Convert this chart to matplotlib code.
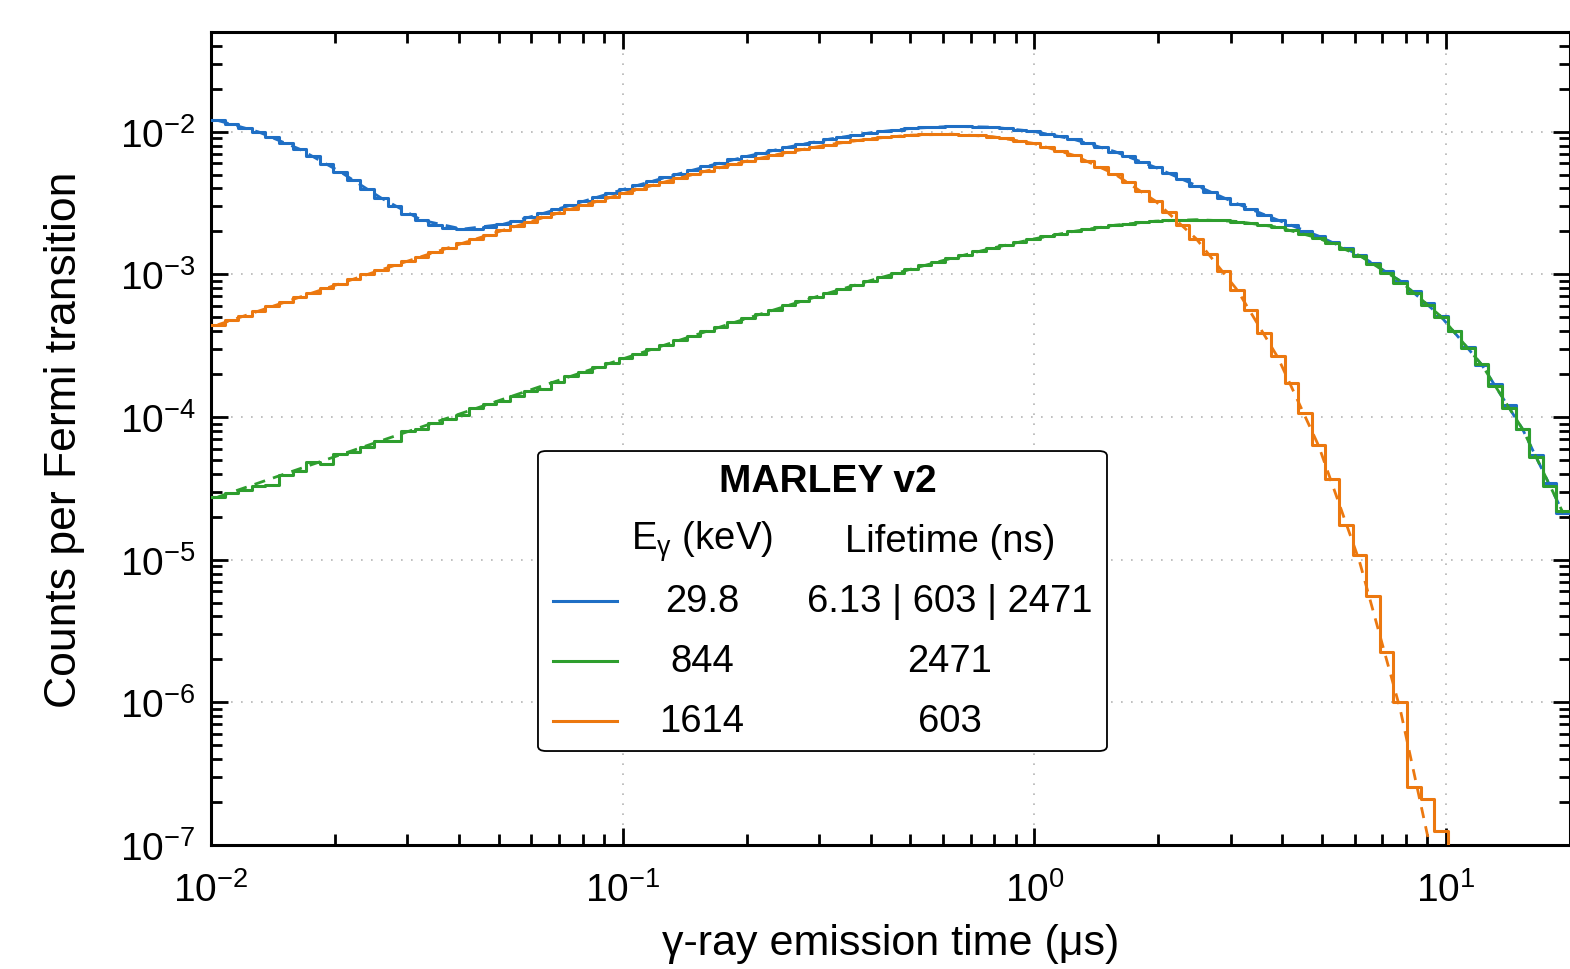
import numpy as np
import matplotlib
matplotlib.use("Agg")
import matplotlib.pyplot as plt
import matplotlib.patches as mpatches

plt.rcParams['font.family'] = ['Liberation Sans', 'DejaVu Sans']
plt.rcParams['mathtext.fontset'] = 'custom'
plt.rcParams['mathtext.rm'] = 'Liberation Sans'
plt.rcParams['mathtext.it'] = 'Liberation Sans:italic'
plt.rcParams['mathtext.bf'] = 'Liberation Sans:bold'

# histogram: 100 log bins from 0.01 to 20 us
t_min, t_max, n_bins = 0.01, 20.0, 100

# counts per bin
blue_hist = [
    1.199e-2, 1.138e-2, 1.070e-2, 9.965e-3, 9.184e-3, 8.376e-3, 7.563e-3, 6.756e-3, 5.976e-3, 5.241e-3,
    4.565e-3, 3.963e-3, 3.439e-3, 3.006e-3, 2.660e-3, 2.399e-3, 2.220e-3, 2.116e-3, 2.076e-3, 2.090e-3,
    2.150e-3, 2.246e-3, 2.371e-3, 2.519e-3, 2.686e-3, 2.869e-3, 3.064e-3, 3.273e-3, 3.495e-3, 3.731e-3,
    3.981e-3, 4.239e-3, 4.512e-3, 4.796e-3, 5.093e-3, 5.402e-3, 5.721e-3, 6.052e-3, 6.392e-3, 6.739e-3,
    7.093e-3, 7.450e-3, 7.809e-3, 8.167e-3, 8.526e-3, 8.873e-3, 9.208e-3, 9.527e-3, 9.827e-3, 1.010e-2,
    1.034e-2, 1.055e-2, 1.072e-2, 1.084e-2, 1.090e-2, 1.092e-2, 1.087e-2, 1.077e-2, 1.059e-2, 1.036e-2,
    1.006e-2, 9.700e-3, 9.292e-3, 8.832e-3, 8.331e-3, 7.808e-3, 7.260e-3, 6.706e-3, 6.156e-3, 5.620e-3,
    5.110e-3, 4.631e-3, 4.193e-3, 3.796e-3, 3.442e-3, 3.130e-3, 2.857e-3, 2.616e-3, 2.403e-3, 2.208e-3,
    2.028e-3, 1.856e-3, 1.691e-3, 1.528e-3, 1.366e-3, 1.207e-3, 1.051e-3, 9.01e-4, 7.59e-4, 6.27e-4,
    5.07e-4, 4.01e-4, 3.10e-4, 2.33e-4, 1.70e-4, 1.21e-4, 8.26e-5, 5.46e-5, 3.47e-5, 2.12e-5,
]
green_hist = [
    2.75e-5, 2.93e-5, 3.09e-5, 3.30e-5, 3.32e-5, 3.94e-5, 4.16e-5, 4.81e-5, 4.68e-5, 5.53e-5,
    5.67e-5, 6.16e-5, 6.75e-5, 6.75e-5, 7.93e-5, 8.28e-5, 9.08e-5, 9.73e-5, 1.028e-4, 1.156e-4,
    1.239e-4, 1.288e-4, 1.396e-4, 1.53e-4, 1.58e-4, 1.75e-4, 1.95e-4, 2.06e-4, 2.25e-4, 2.38e-4,
    2.60e-4, 2.77e-4, 3.01e-4, 3.20e-4, 3.47e-4, 3.70e-4, 4.01e-4, 4.27e-4, 4.62e-4, 4.91e-4,
    5.30e-4, 5.65e-4, 6.08e-4, 6.48e-4, 6.96e-4, 7.41e-4, 7.95e-4, 8.45e-4, 9.04e-4, 9.60e-4,
    1.025e-3, 1.086e-3, 1.157e-3, 1.223e-3, 1.299e-3, 1.370e-3, 1.450e-3, 1.524e-3, 1.608e-3, 1.683e-3,
    1.768e-3, 1.843e-3, 1.926e-3, 1.998e-3, 2.077e-3, 2.141e-3, 2.211e-3, 2.263e-3, 2.319e-3, 2.355e-3,
    2.392e-3, 2.405e-3, 2.418e-3, 2.404e-3, 2.388e-3, 2.344e-3, 2.297e-3, 2.220e-3, 2.140e-3, 2.033e-3,
    1.922e-3, 1.789e-3, 1.656e-3, 1.504e-3, 1.356e-3, 1.190e-3, 1.016e-3, 8.65e-4, 7.36e-4, 6.09e-4,
    5.00e-4, 3.98e-4, 3.05e-4, 2.34e-4, 1.65e-4, 1.16e-4, 8.24e-5, 5.27e-5, 3.31e-5, 2.20e-5,
]
orange_hist = [
    4.43e-4, 4.77e-4, 5.14e-4, 5.53e-4, 5.96e-4, 6.42e-4, 6.91e-4, 7.44e-4, 8.01e-4, 8.62e-4,
    9.28e-4, 9.98e-4, 1.074e-3, 1.155e-3, 1.241e-3, 1.334e-3, 1.433e-3, 1.539e-3, 1.652e-3, 1.773e-3,
    1.903e-3, 2.040e-3, 2.186e-3, 2.342e-3, 2.508e-3, 2.683e-3, 2.868e-3, 3.064e-3, 3.271e-3, 3.489e-3,
    3.721e-3, 3.960e-3, 4.212e-3, 4.474e-3, 4.746e-3, 5.030e-3, 5.322e-3, 5.623e-3, 5.931e-3, 6.245e-3,
    6.563e-3, 6.882e-3, 7.201e-3, 7.517e-3, 7.831e-3, 8.130e-3, 8.414e-3, 8.680e-3, 8.923e-3, 9.138e-3,
    9.319e-3, 9.462e-3, 9.561e-3, 9.611e-3, 9.606e-3, 9.545e-3, 9.423e-3, 9.237e-3, 8.986e-3, 8.669e-3,
    8.289e-3, 7.853e-3, 7.366e-3, 6.829e-3, 6.254e-3, 5.662e-3, 5.049e-3, 4.437e-3, 3.837e-3, 3.259e-3,
    2.718e-3, 2.220e-3, 1.775e-3, 1.385e-3, 1.054e-3, 7.80e-4, 5.60e-4, 3.90e-4, 2.66e-4, 1.72e-4,
    1.06e-4, 6.4e-5, 3.7e-5, 1.75e-5, 1.07e-5, 5.6e-6, 2.26e-6, 1.0e-6, 2.55e-7, 2.1e-7,
    1.26e-7, 0, 0, 0, 0, 0, 0, 0, 0, 0,
]

# expected (dashed) curves, at every 3rd bin centre
blue_curve = [
    1.199e-2, 9.965e-3, 7.563e-3, 5.241e-3, 3.439e-3, 2.399e-3, 2.076e-3, 2.246e-3, 2.686e-3, 3.273e-3,
    3.981e-3, 4.796e-3, 5.721e-3, 6.739e-3, 7.809e-3, 8.873e-3, 9.827e-3, 1.055e-2, 1.090e-2, 1.077e-2,
    1.006e-2, 8.832e-3, 7.260e-3, 5.620e-3, 4.193e-3, 3.130e-3, 2.403e-3, 1.856e-3, 1.366e-3, 9.01e-4,
    5.07e-4, 2.33e-4, 8.26e-5, 2.12e-5,
]
green_curve = [
    2.75e-5, 3.45e-5, 4.33e-5, 5.43e-5, 6.81e-5, 8.53e-5, 1.067e-4, 1.335e-4, 1.669e-4, 2.082e-4,
    2.593e-4, 3.223e-4, 3.995e-4, 4.937e-4, 6.072e-4, 7.429e-4, 9.035e-4, 1.088e-3, 1.298e-3, 1.528e-3,
    1.768e-3, 2.003e-3, 2.211e-3, 2.361e-3, 2.418e-3, 2.350e-3, 2.140e-3, 1.794e-3, 1.356e-3, 9.00e-4,
    5.07e-4, 2.33e-4, 8.26e-5, 2.12e-5,
]
orange_curve = [
    4.43e-4, 5.53e-4, 6.91e-4, 8.62e-4, 1.074e-3, 1.334e-3, 1.652e-3, 2.040e-3, 2.508e-3, 3.064e-3,
    3.721e-3, 4.474e-3, 5.322e-3, 6.245e-3, 7.201e-3, 8.130e-3, 8.923e-3, 9.462e-3, 9.606e-3, 9.237e-3,
    8.289e-3, 6.829e-3, 5.049e-3, 3.259e-3, 1.775e-3, 7.80e-4, 2.62e-4, 6.3e-5, 9.8e-6, 9.0e-7,
    4.3e-8, 8.7e-10,
]

legend_title = "MARLEY v2"
col_headers = [r"E$_\mathregular{γ}$ (keV)", "Lifetime (ns)"]
energies = ["29.8", "844", "1614"]
lifetimes = ["6.13 | 603 | 2471", "2471", "603"]

c_blue, c_green, c_orange = '#1f6fc5', '#2e9e2e', '#ec780f'

edges = np.geomspace(t_min, t_max, n_bins + 1)
centers = np.sqrt(edges[:-1] * edges[1:])
curve_t = centers[::3]

fig = plt.figure(figsize=(15.7, 9.7), dpi=100)
ax = fig.add_axes([211 / 1570, 1 - 846 / 970, 1359 / 1570, 813 / 970])

for vals, curve, col in [(blue_hist, blue_curve, c_blue),
                         (green_hist, green_curve, c_green),
                         (orange_hist, orange_curve, c_orange)]:
    v = np.asarray(vals, dtype=float)
    ax.step(edges, np.append(v, v[-1]), where='post', color=col, lw=2.2, zorder=3)
    ax.plot(curve_t[:len(curve)], curve, color=col, lw=2.0, ls=(0, (4, 3)), zorder=3)

ax.set_xscale('log')
ax.set_yscale('log')
ax.set_xlim(t_min, t_max)
ax.set_ylim(1e-7, 5e-2)

ax.grid(True, which='major', ls=(0, (1, 5)), color='#b5b5b5', lw=1.2)
ax.set_axisbelow(True)
for s in ax.spines.values():
    s.set_linewidth(2.2)
ax.tick_params(which='both', direction='in', top=True, right=True, width=2.0, labelsize=28)
ax.tick_params(which='major', length=12, pad=11)
ax.tick_params(axis='x', which='major', pad=19)
ax.tick_params(which='minor', length=8)

ax.set_xlabel("γ-ray emission time (μs)", fontsize=31, labelpad=10)
ax.set_ylabel("Counts per Fermi transition", fontsize=32, labelpad=25)

# legend drawn as a small table
tr = ax.transAxes
box = mpatches.FancyBboxPatch((0.2406, 0.1156), 0.4187, 0.369,
                              boxstyle="round,pad=0,rounding_size=0.006",
                              transform=tr, fc='white', ec='black', lw=1.3, zorder=5)
ax.add_patch(box)
ax.text(0.454, 0.4477, legend_title, transform=tr, ha='center', va='center',
        fontsize=28, fontweight='bold', zorder=6)
ax.text(0.3613, 0.3739, col_headers[0], transform=tr, ha='center', va='center', fontsize=27.5, zorder=6)
ax.text(0.5438, 0.3739, col_headers[1], transform=tr, ha='center', va='center', fontsize=27.5, zorder=6)
row_y = [0.3001, 0.2263, 0.1525]
for yy, col, e, lt in zip(row_y, [c_blue, c_green, c_orange], energies, lifetimes):
    ax.plot([0.2517, 0.2988], [yy, yy], transform=tr, color=col, lw=2.2, zorder=6)
    ax.text(0.3613, yy, e, transform=tr, ha='center', va='center', fontsize=27.5, zorder=6)
    ax.text(0.5438, yy, lt, transform=tr, ha='center', va='center', fontsize=27.5, zorder=6)

fig.savefig("out.png", dpi=100)
